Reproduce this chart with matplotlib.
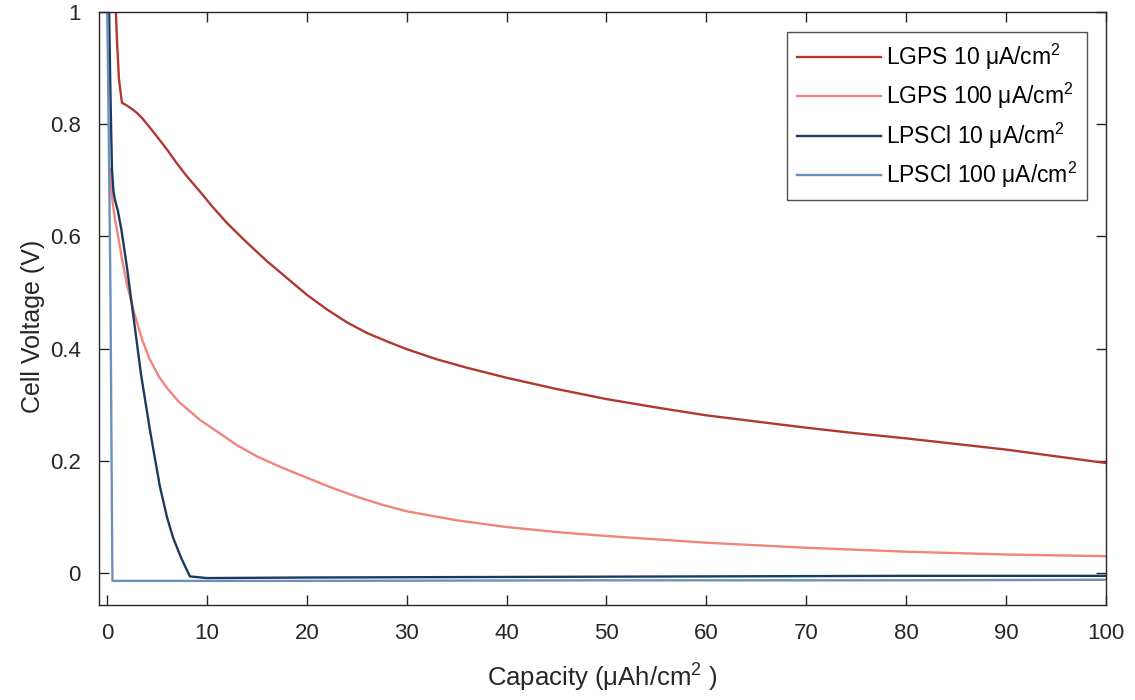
#!/usr/bin/env python3
"""Discharge curves of LGPS and LPSCl cells at two current densities."""

import matplotlib
matplotlib.use("Agg")
import matplotlib.pyplot as plt

plt.rcParams["font.family"] = ["Liberation Sans", "DejaVu Sans"]

# capacity (uAh/cm2) and cell voltage (V)
lgps10_cap = [0.85, 1.0, 1.2, 1.5, 2.0, 2.5, 3.0, 3.5, 4.2, 5.0, 6.0, 7.0,
              8.0, 9.3, 10.5, 12.0, 14.0, 16.0, 18.0, 20.0, 22.0, 24.0,
              26.0, 28.0, 30.0, 33.0, 36.0, 40.0, 45.0, 50.0, 55.0, 60.0,
              65.0, 70.0, 75.0, 80.0, 85.0, 90.0, 95.0, 100.0]
lgps10_v = [1.02, 0.95, 0.88, 0.838, 0.833, 0.827, 0.82, 0.811, 0.796, 0.778,
            0.755, 0.73, 0.707, 0.68, 0.654, 0.624, 0.589, 0.556, 0.526,
            0.496, 0.47, 0.447, 0.428, 0.413, 0.399, 0.381, 0.366, 0.348,
            0.328, 0.31, 0.295, 0.281, 0.27, 0.259, 0.249, 0.24, 0.23, 0.22,
            0.208, 0.196]

lgps100_cap = [0.3, 0.5, 0.8, 1.0, 1.5, 2.0, 2.6, 3.0, 3.5, 4.2, 5.2, 6.0,
               7.2, 9.3, 11.2, 13.0, 15.0, 17.5, 20.0, 22.5, 25.0, 27.5,
               30.0, 35.0, 40.0, 45.0, 50.0, 60.0, 70.0, 80.0, 90.0, 100.0]
lgps100_v = [0.72, 0.67, 0.63, 0.612, 0.56, 0.515, 0.472, 0.447, 0.417,
             0.384, 0.35, 0.33, 0.305, 0.273, 0.25, 0.228, 0.208, 0.188,
             0.17, 0.152, 0.136, 0.122, 0.11, 0.094, 0.082, 0.073, 0.066,
             0.054, 0.045, 0.038, 0.033, 0.03]

lpscl10_cap = [0.2, 0.35, 0.5, 0.65, 0.8, 1.1, 1.47, 2.0, 2.6, 3.4, 4.3,
               5.3, 6.0, 6.6, 7.4, 8.3, 10.0, 20.0, 40.0, 60.0, 80.0, 100.0]
lpscl10_v = [1.02, 0.85, 0.72, 0.68, 0.665, 0.645, 0.609, 0.545, 0.464,
             0.355, 0.255, 0.154, 0.1, 0.064, 0.028, -0.006, -0.009, -0.008,
             -0.007, -0.006, -0.005, -0.005]

lpscl100_cap = [0.0, 0.2, 0.35, 0.5, 0.55, 5.0, 20.0, 50.0, 80.0, 100.0]
lpscl100_v = [1.05, 0.75, 0.5, 0.1, -0.014, -0.014, -0.014, -0.013, -0.013,
              -0.012]

labels = [r"LGPS 10 $\mathregular{\mu A/cm^2}$",
          r"LGPS 100 $\mathregular{\mu A/cm^2}$",
          r"LPSCl 10 $\mathregular{\mu A/cm^2}$",
          r"LPSCl 100 $\mathregular{\mu A/cm^2}$"]
colors = ["#b0392f", "#f0857a", "#1c3a5e", "#6b90bc"]

fig = plt.figure(figsize=(11.35, 7.0), dpi=100)
ax = fig.add_axes([0.0872, 0.1357, 0.8872, 0.8473])

series = [(lgps10_cap, lgps10_v), (lgps100_cap, lgps100_v),
          (lpscl10_cap, lpscl10_v), (lpscl100_cap, lpscl100_v)]
for (cap, v), lab, col in zip(series, labels, colors):
    ax.plot(cap, v, color=col, lw=1.7, label=lab)

ax.set_xlim(-0.8, 100)
ax.set_ylim(-0.057, 1.0)
ax.set_xticks(range(0, 101, 10))
ax.set_yticks([0, 0.2, 0.4, 0.6, 0.8, 1])
ax.set_yticklabels(["0", "0.2", "0.4", "0.6", "0.8", "1"])
ax.tick_params(direction="in", length=7, width=1.0, labelsize=16,
               top=True, right=True, colors="#262626")
ax.tick_params(axis="x", pad=13)
ax.tick_params(axis="y", pad=13)
for s in ax.spines.values():
    s.set_color("#262626")
    s.set_linewidth(1.0)

ax.set_xlabel(r"Capacity ($\mathregular{\mu Ah/cm^2}$ )", fontsize=18.5,
              color="#262626", labelpad=13)
ax.set_ylabel("Cell Voltage (V)", fontsize=18, color="#262626")
ax.yaxis.set_label_coords(-0.054, 0.47)

leg = ax.legend(loc="upper right", bbox_to_anchor=(0.981, 0.966),
                fontsize=16.5, frameon=True, fancybox=False,
                edgecolor="#262626", handlelength=3.7, labelspacing=0.4,
                borderpad=0.42, handletextpad=0.2, borderaxespad=0.0)
leg.get_frame().set_linewidth(1.0)

fig.savefig("out.png", dpi=100, facecolor="white")
